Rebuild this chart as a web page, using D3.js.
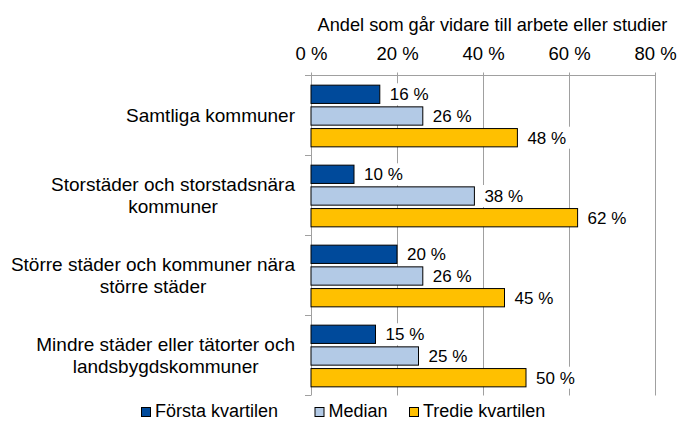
<!DOCTYPE html>
<html><head><meta charset="utf-8">
<script src="https://cdn.jsdelivr.net/npm/d3@7"></script>
<style>
body{margin:0;background:#fff}
svg{display:block}
text{font-family:"Liberation Sans",Arial,sans-serif;fill:#000}
</style>
</head><body>
<svg id="c" width="681" height="421"></svg>
<script>
const categories = [
  "Samtliga kommuner",
  "Storstäder och storstadsnära\nkommuner",
  "Större städer och kommuner nära\nstörre städer",
  "Mindre städer eller tätorter och\nlandsbygdskommuner"
];
const seriesNames = ["Första kvartilen", "Median", "Tredie kvartilen"];
const forstaKvartilen = [16, 10, 20, 15];
const median = [26, 38, 26, 25];
const tredieKvartilen = [48, 62, 45, 50];
const tickValues = [0, 20, 40, 60, 80];
const tickLabels = ["0 %", "20 %", "40 %", "60 %", "80 %"];
const axisTitle = "Andel som går vidare till arbete eller studier";
const colors = ["#004A9B", "#B3CAE6", "#FFC000"];

const seriesValues = [forstaKvartilen, median, tredieKvartilen];

const svg = d3.select("#c");
const pL = 311, pR = 655, pT = 75.5, pB = 395.5;
const gridColor = "#A0A0A0";

const x = d3.scaleLinear().domain([0, 80]).range([pL, pR]);
const y = d3.scaleBand().domain(d3.range(categories.length)).range([pT, pB]);
const groupLen = 61.7;
const ys = d3.scaleBand().domain(d3.range(seriesNames.length))
  .range([0, groupLen]).paddingInner(0.157).paddingOuter(0);
const groupStart = i => y(i) + y.bandwidth() / 2 + 0.5 - groupLen / 2;
const crisp = v => Math.round(v) + 0.5;

// gridlines
svg.append("g").selectAll("line").data(tickValues.slice(1)).join("line")
  .attr("x1", d => crisp(x(d) - 0.5)).attr("x2", d => crisp(x(d) - 0.5))
  .attr("y1", pT).attr("y2", pB)
  .attr("stroke", gridColor).attr("stroke-width", 1);

// top value axis
const xAxis = d3.axisTop(x).tickValues(tickValues).tickFormat((d, i) => tickLabels[i]).tickSize(0);
const gx = svg.append("g").attr("transform", `translate(0,${pT})`).call(xAxis);
gx.select(".domain").remove();
gx.selectAll(".tick line").remove();
gx.selectAll("text").attr("y", -15.5).attr("dy", 0)
  .style("font-size", "18.5px").style("font-family", '"Liberation Sans",Arial,sans-serif')
  .attr("fill", "#000");
svg.append("line").attr("x1", 305).attr("x2", pR + 0.5).attr("y1", pT).attr("y2", pT)
  .attr("stroke", gridColor);
svg.append("g").selectAll("line").data(tickValues).join("line")
  .attr("x1", d => crisp(x(d) - 0.5)).attr("x2", d => crisp(x(d) - 0.5))
  .attr("y1", pT - 3).attr("y2", d => d === 0 ? pT : pT + 2.5)
  .attr("stroke", gridColor);

// left category axis
svg.append("line").attr("x1", crisp(pL - 0.5)).attr("x2", crisp(pL - 0.5))
  .attr("y1", pT).attr("y2", pB).attr("stroke", gridColor);
svg.append("g").selectAll("line").data(d3.range(categories.length + 1)).join("line")
  .attr("x1", 305).attr("x2", pL)
  .attr("y1", d => pT + d * y.step()).attr("y2", d => pT + d * y.step())
  .attr("stroke", gridColor);

// bars
const barData = [];
seriesValues.forEach((vals, s) => vals.forEach((v, i) => barData.push({s, i, v})));
svg.append("g").selectAll("rect").data(barData).join("rect")
  .attr("x", x(0))
  .attr("y", d => groupStart(d.i) + ys(d.s))
  .attr("width", d => x(d.v) - x(0))
  .attr("height", ys.bandwidth())
  .attr("fill", d => colors[d.s])
  .attr("stroke", "#000").attr("stroke-width", 1);

// data labels with white boxes
const lg = svg.append("g");
barData.forEach(d => {
  const cy = groupStart(d.i) + ys(d.s) + ys.bandwidth() / 2;
  const tx = x(d.v) + 10;
  const box = lg.append("rect").attr("fill", "#fff");
  const t = lg.append("text").attr("x", tx).attr("y", cy).attr("dy", "0.35em")
    .style("font-size", "17px").text(d.v + " %");
  const w = t.node().getComputedTextLength();
  box.attr("x", tx - 6).attr("width", w + 12).attr("y", cy - 11).attr("height", 22);
});

// category labels
const cg = svg.append("g");
categories.forEach((c, i) => {
  const lines = c.split("\n");
  const cy = y(i) + y.bandwidth() / 2;
  const lh = 21.7;
  const ts = lines.map((ln, k) => cg.append("text")
    .attr("y", cy + (k - (lines.length - 1) / 2) * lh).attr("dy", "0.36em")
    .attr("text-anchor", "middle").style("font-size", "19px").text(ln));
  const maxW = d3.max(ts, t => t.node().getComputedTextLength());
  ts.forEach(t => t.attr("x", 295 - maxW / 2));
});

// axis title
svg.append("text").attr("x", 492.5).attr("y", 30.5).attr("text-anchor", "middle")
  .style("font-size", "18.2px").text(axisTitle);

// legend
const legX = [141, 314.5, 409];
seriesNames.forEach((n, s) => {
  svg.append("rect").attr("x", legX[s] + 0.5).attr("y", 407.5).attr("width", 9).attr("height", 9)
    .attr("fill", colors[s]).attr("stroke", "#000");
  svg.append("text").attr("x", legX[s] + 14).attr("y", 416.5).style("font-size", "18px").text(n);
});
</script>
</body></html>
